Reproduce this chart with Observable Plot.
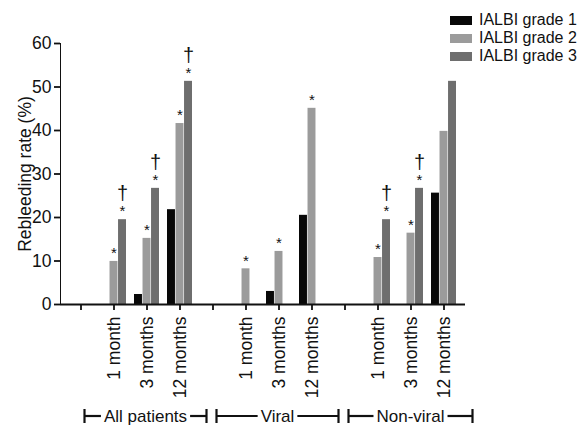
<!DOCTYPE html>
<html><head><meta charset="utf-8">
<script src="https://cdn.jsdelivr.net/npm/d3@7"></script>
<script src="https://cdn.jsdelivr.net/npm/@observablehq/plot@0.6"></script>
<style>
body{margin:0;background:#fff;font-family:"Liberation Sans",Arial,sans-serif;}
#wrap{position:relative;width:581px;height:429px;}
#legend{position:absolute;left:450px;top:11px;font-size:16px;line-height:18px;color:#111;}
.row{display:flex;align-items:center;white-space:nowrap}
.sw{width:22px;height:9px;margin-right:7px;}
svg g[aria-label*="axis"] path, svg g[aria-label*="axis"] line{stroke-width:1.8;}
</style></head><body><div id="wrap"><div id="legend"></div></div>
<script>
const groups = ["All patients", "Viral", "Non-viral"];
const periods = ["1 month", "3 months", "12 months"];
const grades = ["IALBI grade 1", "IALBI grade 2", "IALBI grade 3"];
const gradeColors = ["#080808", "#9b9b9b", "#6e6e6e"];
// values per group x period (All 1m,3m,12m, Viral 1m,3m,12m, Non-viral 1m,3m,12m)
const grade1 = [0, 2.3, 21.8, 0, 3.0, 20.5, 0, 0, 25.6];
const grade2 = [9.9, 15.2, 41.6, 8.2, 12.2, 45.1, 10.8, 16.4, 39.8];
const grade3 = [19.5, 26.7, 51.3, 0, 0, 0, 19.5, 26.7, 51.3];
const star2 = [1, 1, 1, 1, 1, 1, 1, 1, 0];
const star3 = [1, 1, 1, 0, 0, 0, 1, 1, 0];
const dagger3 = [1, 1, 1, 0, 0, 0, 1, 1, 0];
const yTicks = [0, 10, 20, 30, 40, 50, 60];

const series = [grade1, grade2, grade3];
const slots = [];
groups.forEach(g => { slots.push("gap|" + g); periods.forEach(p => slots.push(g + "|" + p)); });
const rows = [];
groups.forEach((g, gi) => periods.forEach((p, pi) => series.forEach((s, k) => {
  const i = gi * 3 + pi;
  rows.push({slot: g + "|" + p, grade: grades[k], k, value: s[i],
    star: (k === 1 && star2[i]) || (k === 2 && star3[i]), dagger: k === 2 && dagger3[i]});
})));

const W = 581, H = 429, mL = 60, mR = 116, mT = 43, mB = 125;
const pIn = 0.24, pOut = 0.14;
const step = (W - mL - mR) / (slots.length - pIn + 2 * pOut);
const bw = step * (1 - pIn), sub = bw / 3;

const marks = [];
[0, 1, 2].forEach(k => {
  const d = rows.filter(r => r.k === k);
  marks.push(Plot.barY(d, {x: "slot", y: "value", fill: "grade", insetLeft: k * sub, insetRight: (2 - k) * sub}));
  marks.push(Plot.text(d.filter(r => r.star), {x: "slot", y: "value", text: () => "*", dx: (k - 1) * sub, dy: -8, fontSize: 15}));
  marks.push(Plot.text(d.filter(r => r.dagger), {x: "slot", y: "value", text: () => "†", dx: (k - 1) * sub, dy: -26, fontSize: 20}));
});
marks.push(Plot.ruleY([0], {strokeWidth: 2}));

const plot = Plot.plot({
  width: W, height: H, marginTop: mT, marginBottom: mB, marginLeft: mL, marginRight: mR,
  style: {fontFamily: "Liberation Sans, Arial, sans-serif", fontSize: "17.5px", color: "#111", background: "transparent"},
  x: {domain: slots, paddingInner: pIn, paddingOuter: pOut, tickRotate: -90, tickSize: 6, tickPadding: 6,
      tickFormat: s => s.startsWith("gap|") ? "" : s.split("|")[1], label: null},
  y: {domain: [0, 60], ticks: yTicks, tickSize: 6, tickPadding: 3, label: "Rebleeding rate (%)", labelAnchor: "center", labelArrow: false, labelOffset: 42, line: true},
  color: {domain: grades, range: gradeColors},
  marks
});
const wrap = document.getElementById("wrap");
wrap.appendChild(plot);

// group brackets
const xs = plot.scale("x");
const center = s => xs.apply(s) + xs.bandwidth / 2;
const svg = d3.select(plot);
const by = 416;
groups.forEach((g, gi) => {
  const x0 = center("gap|" + g) + 4;
  const x1 = gi < groups.length - 1 ? center("gap|" + groups[gi + 1]) - 6 : center(g + "|12 months") + xs.step - 4;
  const gEl = svg.append("g").attr("stroke", "#111").attr("stroke-width", 2.2);
  const t = svg.append("text").attr("x", (x0 + x1) / 2).attr("y", by).attr("dy", "0.35em")
    .attr("text-anchor", "middle").attr("font-size", 17).attr("fill", "#111").text(g);
  const tw = t.node().getComputedTextLength();
  const tl = (x0 + x1) / 2 - tw / 2 - 3, tr = (x0 + x1) / 2 + tw / 2 + 3;
  gEl.append("line").attr("x1", x0).attr("x2", x0).attr("y1", by - 7).attr("y2", by + 7);
  gEl.append("line").attr("x1", x1).attr("x2", x1).attr("y1", by - 7).attr("y2", by + 7);
  gEl.append("line").attr("x1", x0).attr("x2", tl).attr("y1", by).attr("y2", by);
  gEl.append("line").attr("x1", tr).attr("x2", x1).attr("y1", by).attr("y2", by);
});

// legend
const legend = document.getElementById("legend");
grades.forEach((g, i) => {
  const r = document.createElement("div"); r.className = "row";
  const sw = document.createElement("span"); sw.className = "sw"; sw.style.background = gradeColors[i];
  const tx = document.createElement("span"); tx.textContent = g;
  r.appendChild(sw); r.appendChild(tx); legend.appendChild(r);
});
</script></body></html>
